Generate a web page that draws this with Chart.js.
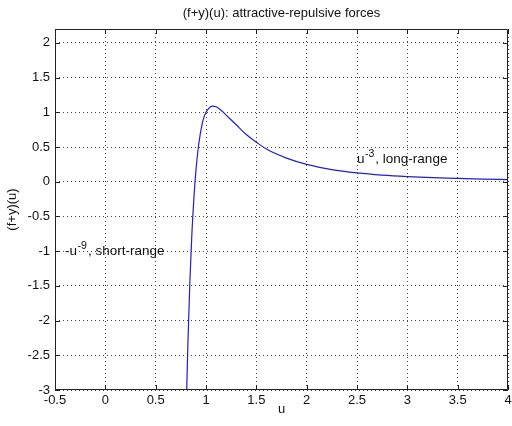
<!DOCTYPE html>
<html>
<head>
<meta charset="utf-8">
<script src="https://cdn.jsdelivr.net/npm/chart.js@4/dist/chart.umd.min.js"></script>
<style>
  html, body { margin: 0; padding: 0; background: #ffffff; }
  #wrap { width: 512px; height: 426px; position: relative; }
</style>
</head>
<body>
<div id="wrap"><canvas id="c" width="512" height="426"></canvas></div>
<script>
// ---- data ----
const uValues = [0.80, 0.81, 0.82, 0.84, 0.86, 0.88, 0.90, 0.92, 0.94, 0.96, 0.98, 1.00, 1.03, 1.06, 1.10, 1.15, 1.20, 1.30, 1.40, 1.50, 1.60, 1.80, 2.00, 2.25, 2.50, 2.75, 3.00, 3.25, 3.50, 3.75, 4.00];
const forceValues = [-3.55, -2.90, -2.34, -1.43, -0.74, -0.23, 0.16, 0.45, 0.66, 0.82, 0.93, 1.00, 1.06, 1.09, 1.08, 1.03, 0.96, 0.82, 0.68, 0.57, 0.47, 0.34, 0.25, 0.175, 0.128, 0.096, 0.074, 0.058, 0.047, 0.038, 0.031];
const xTickValues = [-0.5, 0, 0.5, 1, 1.5, 2, 2.5, 3, 3.5, 4];
const yTickValues = [-3, -2.5, -2, -1.5, -1, -0.5, 0, 0.5, 1, 1.5, 2];
const xRange = [-0.5, 4];
const yRange = [-3, 2.2];
const chartTitle = '(f+y)(u): attractive-repulsive forces';
const xAxisTitle = 'u';
const yAxisTitle = '(f+y)(u)';
// annotations: [base, superscript, rest], anchored at data coordinates
const annotationParts = [['-u', '-9', ', short-range'], ['u', '-3', ', long-range']];
const annotationX = [-0.4, 2.5];
const annotationY = [-1.0, 0.33];

const FONT = '"Liberation Sans", Arial, Helvetica, sans-serif';
const FS = 13;
const points = uValues.map((u, i) => ({ x: u, y: forceValues[i] }));

const boxPlugin = {
  id: 'boxPlugin',
  afterDraw(chart) {
    const { ctx, chartArea: a, scales } = chart;
    const xs = scales.x, ys = scales.y;
    ctx.save();
    ctx.strokeStyle = '#222';
    ctx.lineWidth = 1;
    ctx.beginPath();
    const tl = 5;
    xTickValues.forEach(v => {
      const px = Math.round(xs.getPixelForValue(v)) + 0.5;
      ctx.moveTo(px, a.bottom); ctx.lineTo(px, a.bottom - tl);
      ctx.moveTo(px, a.top); ctx.lineTo(px, a.top + tl);
    });
    yTickValues.forEach(v => {
      const py = Math.round(ys.getPixelForValue(v)) + 0.5;
      ctx.moveTo(a.left, py); ctx.lineTo(a.left + tl, py);
      ctx.moveTo(a.right, py); ctx.lineTo(a.right - tl, py);
    });
    ctx.stroke();
    ctx.beginPath();
    ctx.rect(Math.round(a.left) + 0.5, Math.round(a.top) + 0.5, Math.round(a.right - a.left) - 1, Math.round(a.bottom - a.top) - 1);
    ctx.stroke();
    ctx.fillStyle = '#111';
    ctx.textBaseline = 'middle';
    ctx.textAlign = 'left';
    annotationParts.forEach((parts, i) => {
      let x = xs.getPixelForValue(annotationX[i]);
      const y = ys.getPixelForValue(annotationY[i]);
      ctx.font = '13.5px ' + FONT;
      ctx.fillText(parts[0], x, y);
      x += ctx.measureText(parts[0]).width + 0.5;
      ctx.font = '10.5px ' + FONT;
      ctx.fillText(parts[1], x, y - 5);
      x += ctx.measureText(parts[1]).width + 1;
      ctx.font = '13.5px ' + FONT;
      ctx.fillText(parts[2], x, y);
    });
    ctx.restore();
  }
};

new Chart(document.getElementById('c'), {
  type: 'scatter',
  data: {
    datasets: [{
      data: points,
      showLine: true,
      borderColor: '#2020cc',
      borderWidth: 1.2,
      pointRadius: 0,
      cubicInterpolationMode: 'monotone',
      fill: false
    }]
  },
  options: {
    responsive: false,
    animation: false,
    devicePixelRatio: 1,
    layout: { padding: { left: 0, right: 4, top: 0, bottom: 0 } },
    plugins: {
      legend: { display: false },
      tooltip: { enabled: false },
      title: {
        display: true,
        text: chartTitle,
        fullSize: false,
        color: '#111',
        font: { family: FONT, size: FS, weight: 'normal', lineHeight: 1.2 },
        padding: { top: 5.5, bottom: 7.9 }
      }
    },
    scales: {
      x: {
        type: 'linear',
        min: xRange[0], max: xRange[1],
        afterBuildTicks: s => { s.ticks = xTickValues.map(v => ({ value: v })); },
        afterFit: s => { s.height = 36; s.paddingLeft = 0; s.paddingRight = 0; },
        grid: { color: '#444', lineWidth: 1, drawTicks: false },
        border: { display: false, dash: [1, 3] },
        ticks: { color: '#111', padding: 3, maxRotation: 0, autoSkip: false,
                 font: { family: FONT, size: FS },
                 callback: v => String(v) },
        title: { display: true, text: xAxisTitle, color: '#111',
                 font: { family: FONT, size: FS, lineHeight: 1.2 },
                 padding: { top: 0, bottom: 9 } }
      },
      y: {
        type: 'linear',
        min: yRange[0], max: yRange[1],
        afterBuildTicks: s => { s.ticks = yTickValues.map(v => ({ value: v })); },
        afterFit: s => { s.width = 55; s.paddingTop = 0; s.paddingBottom = 0; },
        grid: { color: '#444', lineWidth: 1, drawTicks: false },
        border: { display: false, dash: [1, 3] },
        ticks: { color: '#111', padding: 5, autoSkip: false,
                 font: { family: FONT, size: FS },
                 callback: v => String(v) },
        title: { display: true, text: yAxisTitle, color: '#111',
                 font: { family: FONT, size: FS, lineHeight: 1.2 },
                 padding: { top: 5, bottom: 0 } }
      }
    }
  },
  plugins: [boxPlugin]
});
</script>
</body>
</html>
